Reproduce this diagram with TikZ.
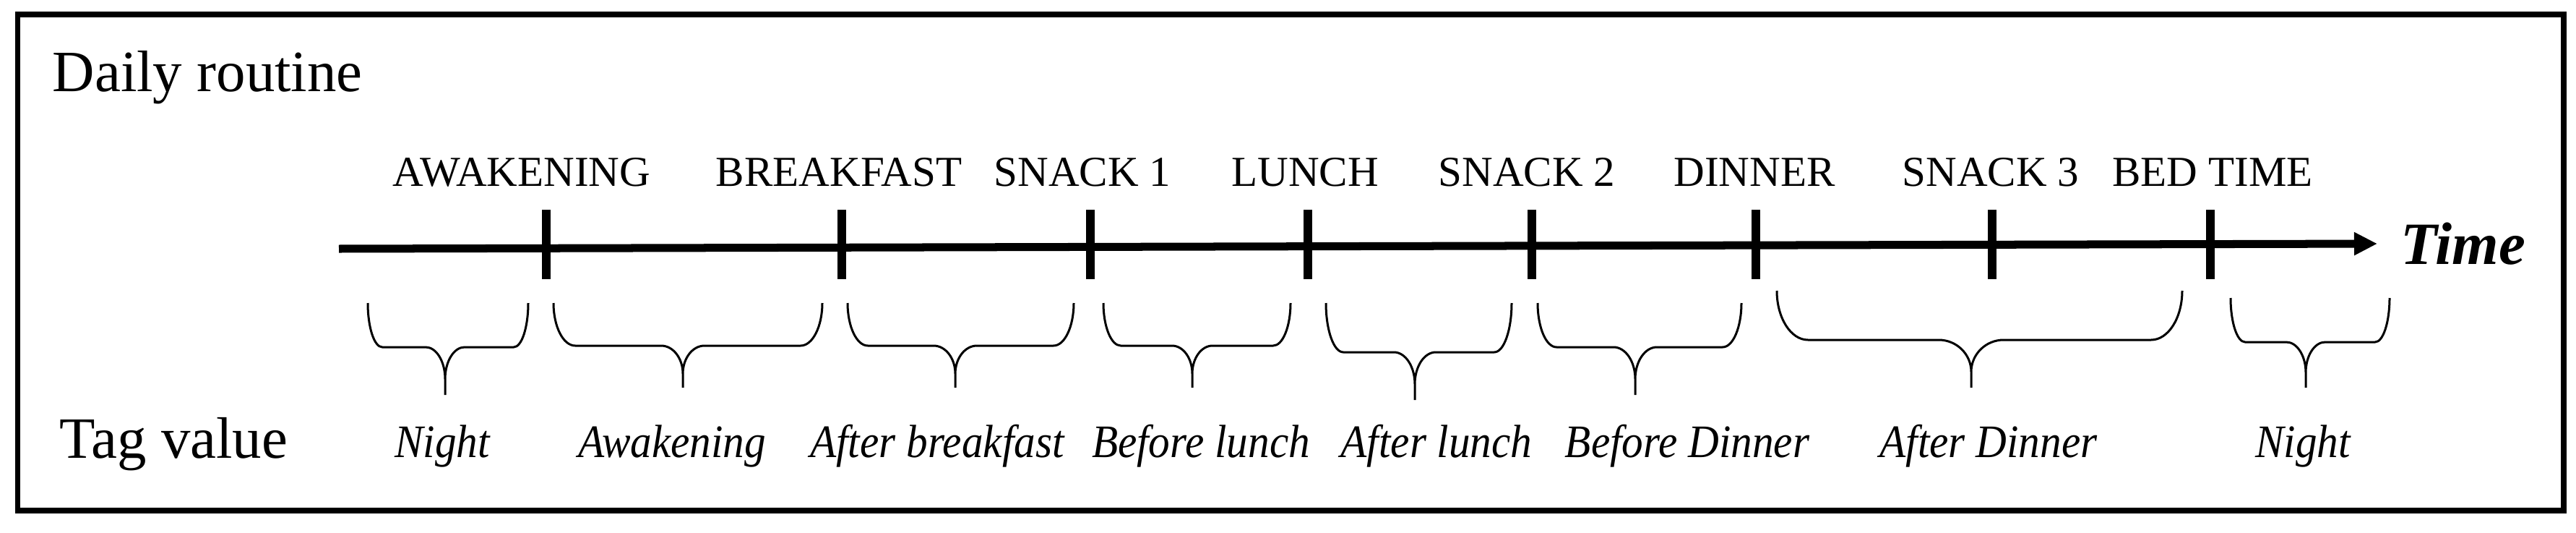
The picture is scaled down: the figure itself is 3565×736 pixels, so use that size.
\documentclass[tikz,border=0pt]{standalone}
\usepackage{fontspec}
\setmainfont{Liberation Serif}
\newfontfamily\tagfont[FakeStretch=0.92]{Liberation Serif}
\usetikzlibrary{arrows.meta}
\tikzset{
  frame/.style={line width=0.075cm},
  timeline/.style={line width=0.11cm,-{Triangle[length=0.32cm,width=0.30cm]}},
  tickmark/.style={line width=0.12cm},
  bracestyle/.style={line width=0.03cm,line join=round},
  tlabel/.style={anchor=base,inner sep=0pt,font=\fontsize{16.8}{19}\selectfont},
  tagv/.style={anchor=base,inner sep=0pt,font=\tagfont\itshape\fontsize{18.3}{21}\selectfont},
  bigtitle/.style={anchor=base west,inner sep=0pt,font=\fontsize{23}{27}\selectfont},
  timelab/.style={anchor=base west,inner sep=0pt,font=\bfseries\itshape\fontsize{23.6}{27}\selectfont}
}
% #1 x1, #2 x2, #3 xm (tip), #4 ytop, #5 ymid, #6 ytip, #7 corner r, #8 cusp s
\newcommand{\tlbrace}[8]{%
  \draw[bracestyle]
    (#1,#4) .. controls (#1,{#4+0.552*(#5-#4)}) and ({#1+0.448*#7},#5) .. ({#1+#7},#5)
    -- ({#3-#8},#5) .. controls ({#3-0.448*#8},#5) and (#3,{#5+0.30*(#6-#5)}) .. (#3,{#5+0.67*(#6-#5)})
    -- (#3,#6)
    (#2,#4) .. controls (#2,{#4+0.552*(#5-#4)}) and ({#2-0.448*#7},#5) .. ({#2-#7},#5)
    -- ({#3+#8},#5) .. controls ({#3+0.448*#8},#5) and (#3,{#5+0.30*(#6-#5)}) .. (#3,{#5+0.67*(#6-#5)});
}
\begin{document}
\begin{tikzpicture}[x=0.01cm,y=-0.01cm]
\useasboundingbox (0,0) rectangle (3565,736);
\draw[frame] (24.5,20) rectangle (3548,706);

\node[bigtitle] (title) at (72,126) {Daily routine};
\node[bigtitle] (tagtitle) at (82,633) {Tag value};

% time line
\coordinate (tstart) at (469,344);
\coordinate (tend) at (3290,337);
\draw[timeline] (tstart) -- (tend);
\node[timelab] (time) at (3322,365) {Time};

% ticks
\foreach \n/\x in {t1/756,t2/1165,t3/1509,t4/1810,t5/2120,t6/2430,t7/2757,t8/3059}{
  \coordinate (\n top) at (\x,290);
  \coordinate (\n bot) at (\x,386);
  \draw[tickmark] (\n top) -- (\n bot);
}

% tick labels
\node[tlabel] (l1) at (722,257) {AWAKENING};
\node[tlabel] (l2) at (1161,257) {BREAKFAST};
\node[tlabel] (l3) at (1498,257) {SNACK 1};
\node[tlabel] (l4) at (1806,257) {LUNCH};
\node[tlabel] (l5) at (2113,257) {SNACK 2};
\node[tlabel] (l6) at (2428,257) {DINNER};
\node[tlabel] (l7) at (2755,257) {SNACK 3};
\node[tlabel] (l8) at (3062,257) {BED TIME};

% braces
\tlbrace{509}{731}{616}{419}{480}{546}{20}{27}
\tlbrace{766}{1138}{945}{419}{478}{536}{30}{30}
\tlbrace{1173}{1486}{1322}{419}{478}{536}{28}{30}
\tlbrace{1527}{1786}{1650}{419}{478}{536}{24}{28}
\tlbrace{1835}{2092}{1958}{419}{487}{553}{24}{29}
\tlbrace{2128}{2410}{2263}{419}{480}{546}{26}{30}
\tlbrace{2459}{3020}{2728}{402}{470}{536}{43}{45}
\tlbrace{3087}{3307}{3191}{412}{473}{536}{20}{27}

% tag values
\node[tagv] (v1) at (612,632) {Night};
\node[tagv] (v2) at (930,632) {Awakening};
\node[tagv] (v3) at (1297,632) {After breakfast};
\node[tagv] (v4) at (1662,632) {Before lunch};
\node[tagv] (v5) at (1988,632) {After lunch};
\node[tagv] (v6) at (2335,632) {Before Dinner};
\node[tagv] (v7) at (2752,632) {After Dinner};
\node[tagv] (v8) at (3187,632) {Night};
\end{tikzpicture}
\end{document}
